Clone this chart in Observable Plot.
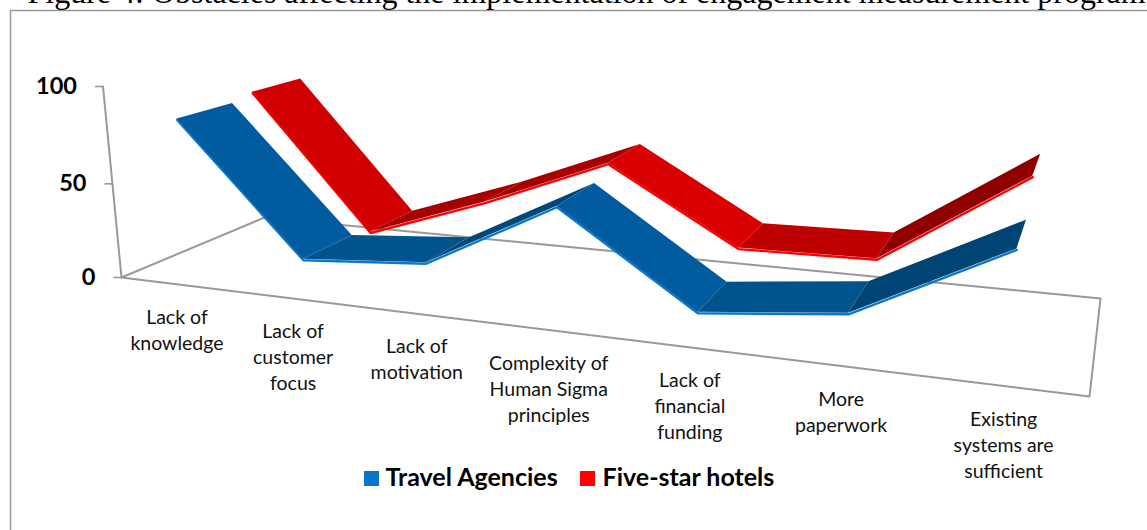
<!DOCTYPE html>
<html><head><meta charset="utf-8">
<script src="https://cdn.jsdelivr.net/npm/d3@7"></script>
<script src="https://cdn.jsdelivr.net/npm/@observablehq/plot@0.6"></script>
<style>html,body{margin:0;padding:0;background:#fff;overflow:hidden}svg{display:block}</style>
</head><body><div id="chart"></div>
<script>
const chartTitle = "Figure 4: Obstacles affecting the implementation of engagement measurement program";
const categories = ["Lack of\nknowledge","Lack of\ncustomer\nfocus","Lack of\nmotivation","Complexity of\nHuman Sigma\nprinciples","Lack of\nfinancial\nfunding","More\npaperwork","Existing\nsystems are\nsufficient"];
const seriesNames = ["Travel Agencies","Five-star hotels"];
const travelAgencies = [83.5,17,22,55,12.5,19.5,53.5];
const fiveStarHotels = [86.5,14,36,61,24,25,68.5];
const tickValues = [0,50,100];
const blueShades = ["#005c9f","#00548e","#004878","#005c9f","#00548e","#004473"];
const redShades  = ["#d00000","#a60000","#a60000","#d80000","#bf0000","#900000"];

// 3-D view: floor corners + lean of the value axis define a projective camera
const A=[121,277],B=[1089,396],C=[1100,298],D=[264,217], axisTop=[102.5,86], vanishX=600;
const dx1=B[0]-C[0],dx2=D[0]-C[0],sx=A[0]-B[0]+C[0]-D[0],dy1=B[1]-C[1],dy2=D[1]-C[1],sy=A[1]-B[1]+C[1]-D[1];
const det=dx1*dy2-dx2*dy1, g=(sx*dy2-dx2*sy)/det, h=(dx1*sy-sx*dy1)/det;
const ax=B[0]-A[0]+g*B[0], bx=D[0]-A[0]+h*D[0], ay=B[1]-A[1]+g*B[1], by=D[1]-A[1]+h*D[1];
const hw=(axisTop[0]-A[0])/(vanishX-axisTop[0]), hx=vanishX*hw, hy=axisTop[1]*(1+hw)-A[1];
function project(u,v,d){const t=v/100,w=1+g*u+h*d+hw*t;return [(A[0]+ax*u+bx*d+hx*t)/w,(A[1]+ay*u+by*d+hy*t)/w];}
const catU=i=>{const u=(i+.5)/categories.length;return u/(.9437+.0563*u);};

function ribbon(values,d0,d1,shades){
  const segs=[],front=[];
  values.forEach((v,i)=>{
    const p=project(catU(i),v,d0);front.push({x:p[0],y:p[1]});
    if(i<values.length-1) [i,i+1].forEach(j=>{
      const f=project(catU(j),values[j],d0),b=project(catU(j),values[j],d1);
      segs.push({x1:f[0],y1:f[1],x2:b[0],y2:b[1],seg:i,fill:shades[i]});
    });
  });
  return {segs,front};
}
const blue=ribbon(travelAgencies,.085,.445,blueShades);
const red=ribbon(fiveStarHotels,.59,.955,redShades);
const floor=[[0,0],[1,0],[1,1],[0,1],[0,0]].map(([u,d])=>{const p=project(u,0,d);return {x:p[0],y:p[1]};});
const wall=[0,100].map(v=>{const p=project(0,v,0);return {x:p[0],y:p[1]};});
const ticks=tickValues.map(v=>{const p=project(0,v,0);return {x:p[0],y:p[1],label:String(v)};});
const catLabels=categories.map((c,i)=>{const q=project(catU(i),0,0);return {x:q[0],y:q[1]+21,label:c};});
const grey="#999999";
const legend=[{x:364,label:seriesNames[0],fill:"#0a74c8",tx:385},{x:580,label:seriesNames[1],fill:"#fe0000",tx:602}];

const plot=Plot.plot({
  width:1147,height:530,margin:0,
  x:{domain:[0,1147],range:[0,1147],axis:null},
  y:{domain:[0,530],range:[0,530],axis:null},
  color:{type:"identity"},
  style:{background:"#fff",overflow:"hidden"},
  marks:[
    Plot.ruleX([10],{y1:10,y2:530,stroke:grey,strokeWidth:1.5}),
    Plot.ruleY([10],{x1:10,x2:1147,stroke:grey,strokeWidth:1.5}),
    Plot.text([chartTitle],{x:()=>27,y:()=>2,text:d=>d,textAnchor:"start",lineAnchor:"bottom",fontFamily:"Liberation Serif",fontSize:32,fill:"#000"}),
    Plot.line(floor,{x:"x",y:"y",stroke:grey,strokeWidth:2}),
    Plot.line(wall,{x:"x",y:"y",stroke:grey,strokeWidth:2}),
    Plot.link(ticks,{x1:"x",y1:"y",x2:d=>d.x-8,y2:"y",stroke:grey,strokeWidth:1.6}),
    Plot.text(ticks,{x:"x",y:"y",dx:-26,text:"label",textAnchor:"end",fontFamily:"Lato",fontWeight:700,fontSize:23.5,fill:"#000"}),
    Plot.line(red.front,{x:"x",y:"y",dy:1,stroke:"#ff0000",strokeWidth:2.4}),
    Plot.area(red.segs,{x1:"x1",y1:"y1",x2:"x2",y2:"y2",z:"seg",fill:"fill"}),
    Plot.line(blue.front,{x:"x",y:"y",dy:1,stroke:"#0a78d0",strokeWidth:2.4}),
    Plot.area(blue.segs,{x1:"x1",y1:"y1",x2:"x2",y2:"y2",z:"seg",fill:"fill"}),
    Plot.text(catLabels,{x:"x",y:"y",text:"label",lineAnchor:"top",lineHeight:1.34,fontFamily:"Lato",fontSize:19.5,fill:"#111"}),
    Plot.rect(legend,{x1:"x",x2:d=>d.x+15,y1:()=>471,y2:()=>486,fill:"fill"}),
    Plot.text(legend,{x:"tx",y:()=>477,text:"label",textAnchor:"start",fontFamily:"Lato",fontWeight:700,fontSize:25,fill:"#000"})
  ]
});
document.getElementById("chart").append(plot);
</script></body></html>
